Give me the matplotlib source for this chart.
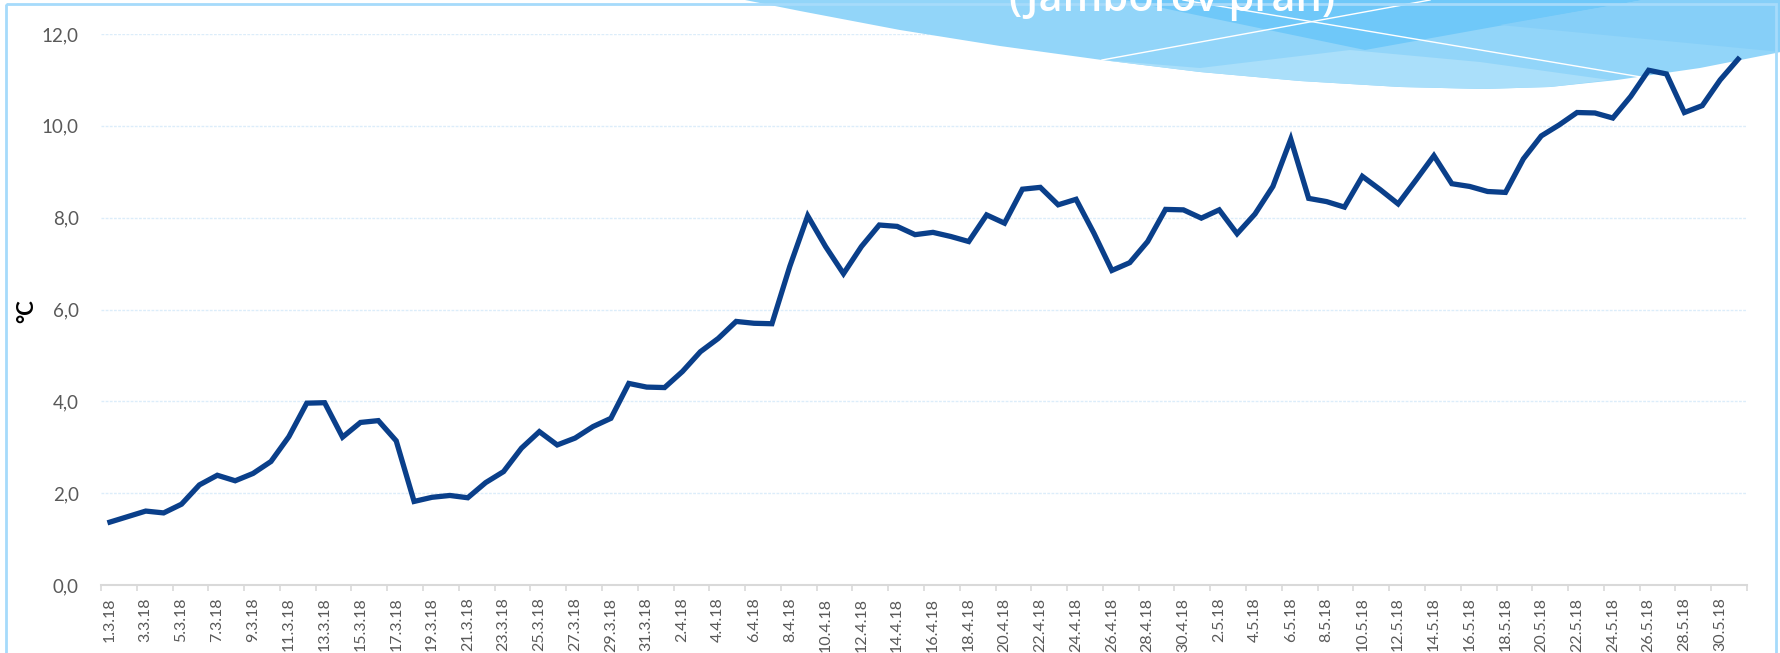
import numpy as np
import pandas as pd
import matplotlib
matplotlib.use('Agg')
import matplotlib.pyplot as plt
from matplotlib.patches import Polygon, Rectangle
from matplotlib.transforms import Affine2D

# daily mean temperature, 1.3.2018 - 31.5.2018
temps = [1.37, 1.49, 1.61, 1.57, 1.76, 2.18, 2.39, 2.27, 2.43, 2.69,
         3.23, 3.96, 3.97, 3.22, 3.54, 3.58, 3.14, 1.82, 1.91, 1.95,
         1.90, 2.23, 2.47, 2.98, 3.34, 3.05, 3.20, 3.45, 3.63, 4.39,
         4.31, 4.30, 4.65, 5.08, 5.37, 5.74, 5.70, 5.69, 6.94, 8.04,
         7.37, 6.78, 7.37, 7.84, 7.81, 7.63, 7.68, 7.59, 7.48, 8.06,
         7.88, 8.62, 8.66, 8.28, 8.40, 7.66, 6.85, 7.02, 7.48, 8.18,
         8.17, 7.99, 8.17, 7.65, 8.08, 8.68, 9.71, 8.42, 8.35, 8.23,
         8.90, 8.61, 8.30, 8.82, 9.35, 8.74, 8.68, 8.57, 8.55, 9.28,
         9.78, 10.02, 10.29, 10.28, 10.17, 10.64, 11.21, 11.13, 10.29, 10.44,
         11.00, 11.45]

dates = pd.date_range('2018-03-01', '2018-05-31')
date_labels = ['%d.%d.18' % (d.day, d.month) for d in dates]

yticks = [0, 2, 4, 6, 8, 10, 12]
ytick_labels = ['0,0', '2,0', '4,0', '6,0', '8,0', '10,0', '12,0']

title_text = '(Jamborov prah)'
unit_label = '°C'

plt.rcParams['font.family'] = ['Lato', 'DejaVu Sans']

W, H = 1781, 653
fig = plt.figure(figsize=(W / 100, H / 100), dpi=100)
fig.patch.set_facecolor('white')

ax = fig.add_axes([101 / W, 68 / H, 1646 / W, 551 / H])
x = np.arange(len(temps))
ax.plot(x, temps, color='#0a3f8a', lw=3.8, solid_joinstyle='miter', zorder=3)

ax.set_xlim(-0.5, len(temps) - 0.5)
ax.set_ylim(0, 12)
ax.set_yticks(yticks)
ax.set_yticklabels(ytick_labels)
ax.set_xticks(x[::2])
ax.set_xticklabels(date_labels[::2], rotation=90)
ax.set_xticks(np.arange(-0.5, len(temps), 2), minor=True)

ax.tick_params(axis='y', length=0, pad=16, labelsize=13.5, labelcolor='#595959')
ax.tick_params(axis='x', which='major', length=0, pad=9, labelsize=11.5, labelcolor='#595959')
ax.tick_params(axis='x', which='minor', length=4, width=1.2, color='#d9d9d9')

for s in ['top', 'right', 'left']:
    ax.spines[s].set_visible(False)
ax.spines['bottom'].set_color('#d9d9d9')
ax.spines['bottom'].set_linewidth(1.5)
ax.grid(axis='y', color='#dcedfa', lw=1, ls=(0, (2, 1)))
ax.set_axisbelow(True)
ax.set_facecolor('none')

fig.text(27 / W, 1 - 311 / H, unit_label, rotation=90, ha='center', va='center',
         fontsize=16, fontweight='bold', color='black')

# pixel coordinates (origin top-left) for the slide decoration
px = Affine2D().scale(1 / W, -1 / H).translate(0, 1) + fig.transFigure

fig.patches.append(Rectangle((6, 4), 1770, 700, transform=px, fill=False,
                             ec='#a6dbfb', lw=2))

wave_x = [745, 800, 900, 1000, 1102, 1200, 1300, 1400, 1483, 1550, 1617, 1700, 1781]
wave_y = [0, 11, 30, 46, 60, 72, 81, 87, 89, 87, 80, 68, 52]
base = list(zip(wave_x, wave_y)) + [(1781, 0)]
ax.add_patch(Polygon(base, closed=True, transform=px, fc='#92d5f9', ec='none',
                     clip_on=False, zorder=1.5))
light = [(1102, 60), (1200, 68), (1350, 50), (1480, 62), (1610, 80),
         (1550, 87), (1483, 89), (1400, 87), (1300, 81), (1200, 72)]
ax.add_patch(Polygon(light, closed=True, transform=px, fc='#aadffa', ec='none',
                     clip_on=False, zorder=1.6))
dark = [(1124, 0), (1365, 50), (1643, 0)]
ax.add_patch(Polygon(dark, closed=True, transform=px, fc='#6fc8f9', ec='none',
                     clip_on=False, zorder=1.6))
right = [(1643, 0), (1500, 25), (1781, 52), (1781, 0)]
ax.add_patch(Polygon(right, closed=True, transform=px, fc='#86cff8', ec='none',
                     clip_on=False, zorder=1.6))
ax.plot([1102, 1430], [60, 0], transform=px, color='white', lw=1, clip_on=False, zorder=1.7)
ax.plot([1183, 1641], [0, 77], transform=px, color='white', lw=1, clip_on=False, zorder=1.7)

# slide title, cut off by the top edge as in the original screenshot
fig.text(1172 / W, 1 - 11 / H, title_text, ha='center', va='baseline',
         fontsize=30, fontweight='semibold', color='white', family=['Open Sans', 'DejaVu Sans'])

fig.savefig('out.png', dpi=100, facecolor='white')
